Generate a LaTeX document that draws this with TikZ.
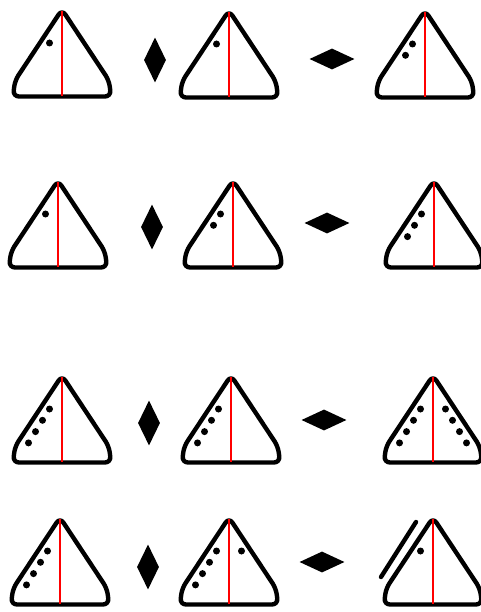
\documentclass[tikz,border=0pt]{standalone}
\usetikzlibrary{shapes.geometric}
\tikzset{
  trishape/.style={line width=4.4pt, line join=round, rounded corners=6pt},
  redline/.style={red, line width=1.9pt},
  vdia/.style={diamond, fill=black, inner sep=0pt, minimum width=22pt, minimum height=45pt},
  hdia/.style={diamond, fill=black, inner sep=0pt, minimum width=45pt, minimum height=21pt},
  extra/.style={line width=4.4pt, line cap=round},
}
\newcommand{\mytri}[2]{%
  \draw[trishape] (#1,#2+2.5) -- ++(-47,71) -- ++(-2,16) -- ++(98,0) -- ++(-2,-16) -- cycle;
  \draw[redline] (#1,#2+4) -- (#1,#2+89);
}
\newcommand{\mydotsL}[3]{%
  \foreach \k in {1,...,#3} {\fill ({#1-12.5-7*(\k-1)},{#2+36+11.3*(\k-1)}) circle (3.5pt);}
}
\newcommand{\mydotsR}[3]{%
  \foreach \k in {1,...,#3} {\fill ({#1+12.5+7*(\k-1)},{#2+36+11.3*(\k-1)}) circle (3.5pt);}
}
\begin{document}
\begin{tikzpicture}[x=1pt,y=-1pt]
\useasboundingbox[fill=white] (0,0) rectangle (480,612);
% row 1
\mytri{62}{7}   \mydotsL{62}{7}{1}
\node[vdia] (v1) at (155,60) {};
\mytri{229}{8}  \mydotsL{229}{8}{1}
\node[hdia] (h1) at (332,59) {};
\mytri{425}{8}  \mydotsL{425}{8}{2}
% row 2
\mytri{58}{178}  \mydotsL{58}{178}{1}
\node[vdia] (v2) at (152,227) {};
\mytri{233}{178} \mydotsL{233}{178}{2}
\node[hdia] (h2) at (327,223) {};
\mytri{434}{178} \mydotsL{434}{178}{3}
% row 3
\mytri{62}{373}  \mydotsL{62}{373}{4}
\node[vdia] (v3) at (149,423) {};
\mytri{231}{373} \mydotsL{231}{373}{4}
\node[hdia] (h3) at (324,420) {};
\mytri{433}{373} \mydotsL{433}{373}{4} \mydotsR{433}{373}{4}
% row 4
\mytri{60}{515}  \mydotsL{60}{515}{4}
\node[vdia] (v4) at (148,567) {};
\mytri{229}{515} \mydotsL{229}{515}{4} \mydotsR{229}{515}{1}
\node[hdia] (h4) at (322,562) {};
\mytri{433}{515} \mydotsL{433}{515}{1}
\coordinate (ea) at (416,522);
\coordinate (eb) at (381,577);
\draw[extra] (ea) -- (eb);
\end{tikzpicture}
\end{document}
